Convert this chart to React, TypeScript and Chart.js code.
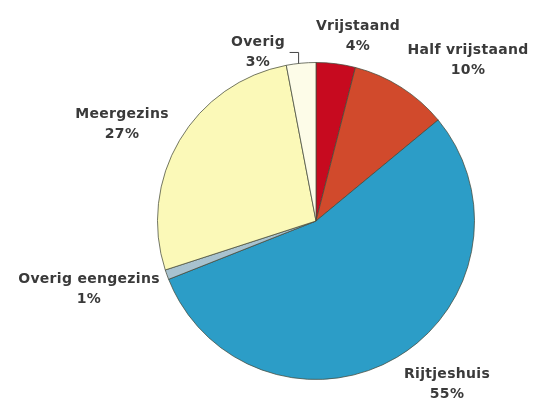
import React, { useEffect, useRef } from "react";
import { Chart, registerables } from "chart.js";

Chart.register(...registerables);

const categories = ["Vrijstaand", "Half vrijstaand", "Rijtjeshuis", "Overig eengezins", "Meergezins", "Overig"];
const shares = [4, 10, 55, 1, 27, 3];
const percentLabels = ["4%", "10%", "55%", "1%", "27%", "3%"];
const sliceColors = ["#c70a1f", "#d14a2c", "#2c9dc7", "#a8c2cf", "#fbf9b8", "#fdfce8"];

// label centre offsets from pie centre (layout only)
const labelOffsets: [number, number][] = [
  [42, -185],
  [152, -161],
  [131, 163],
  [-227, 68],
  [-194, -97],
  [-58, -169],
];

const labelPlugin = {
  id: "pieLabels",
  afterDraw(chart: any) {
    const ctx = chart.ctx;
    const meta = chart.getDatasetMeta(0);
    ctx.save();
    ctx.font = "bold 14px 'DejaVu Sans', sans-serif";
    try { (ctx as any).letterSpacing = "0.3px"; } catch (e) {}
    ctx.fillStyle = "#3a3a3a";
    ctx.textAlign = "center";
    ctx.textBaseline = "middle";
    meta.data.forEach((arc: any, i: number) => {
      const [dx, dy] = labelOffsets[i];
      const x = arc.x + dx;
      const y = arc.y + dy;
      ctx.fillText(categories[i], x, y - 10);
      ctx.fillText(percentLabels[i], x, y + 10);
    });
    try { (ctx as any).letterSpacing = "0px"; } catch (e) {}
    // leader line for "Overig"
    const last = meta.data[5];
    if (last) {
      const cx = last.x, cy = last.y, r = last.outerRadius;
      const ang = -Math.PI / 2 - 0.11;
      const ex = cx + r * Math.cos(ang);
      const ey = cy + r * Math.sin(ang);
      ctx.strokeStyle = "#444";
      ctx.lineWidth = 1;
      ctx.beginPath();
      ctx.moveTo(ex - 9, ey - 11);
      ctx.lineTo(ex, ey - 11);
      ctx.lineTo(ex, ey);
      ctx.stroke();
    }
    ctx.restore();
  },
};

export default function App() {
  const ref = useRef<HTMLCanvasElement | null>(null);
  useEffect(() => {
    if (!ref.current) return;
    const chart = new Chart(ref.current, {
      type: "pie",
      data: {
        labels: categories,
        datasets: [
          {
            data: shares,
            backgroundColor: sliceColors,
            borderColor: "rgba(70,75,60,0.75)",
            borderWidth: 1,
          },
        ],
      },
      options: {
        animation: false,
        responsive: false,
        rotation: 0,
        layout: { padding: { left: 157, right: 60, top: 62, bottom: 21 } },
        plugins: { legend: { display: false }, tooltip: { enabled: false } },
      },
      plugins: [labelPlugin],
    });
    return () => chart.destroy();
  }, []);
  return (
    <div style={{ position: "absolute", left: 0, top: 0, width: 535, height: 401, background: "#fff" }}>
      <canvas ref={ref} width={535} height={401} />
    </div>
  );
}
